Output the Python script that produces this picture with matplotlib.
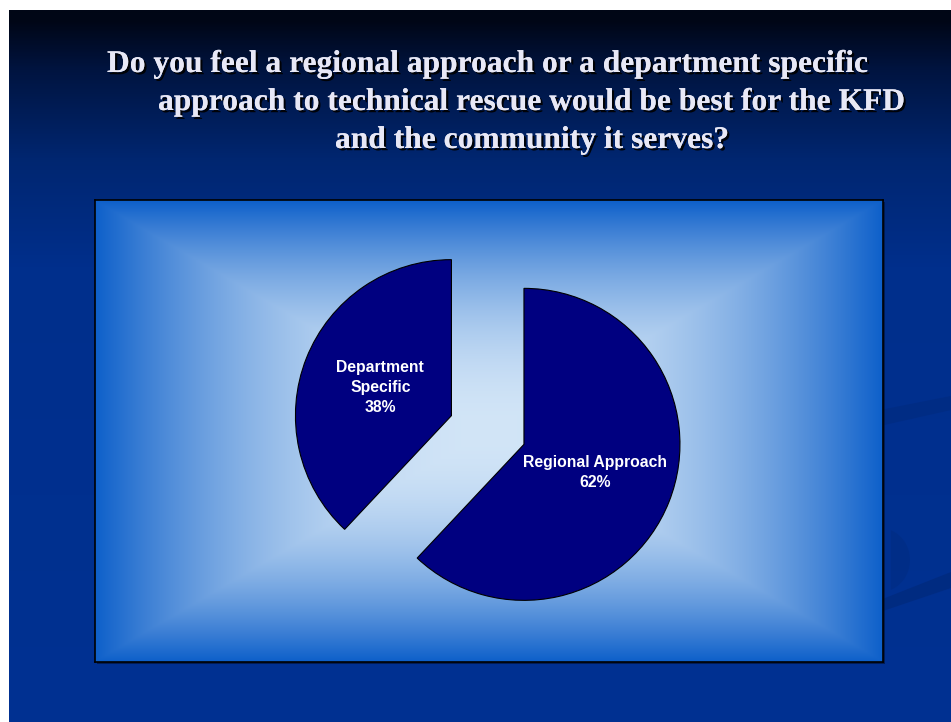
import numpy as np
import matplotlib.pyplot as plt
import matplotlib.patheffects as pe
from matplotlib.patches import Rectangle, Polygon

# survey answers
categories = ["Regional Approach", "Department Specific"]
shares = [62, 38]
title_lines = [
    "Do you feel a regional approach or a department specific",
    "approach to technical rescue would be best for the KFD",
    "and the community it serves?",
]

W, H = 951, 722
fig = plt.figure(figsize=(W / 100, H / 100), dpi=100)
fig.patch.set_facecolor("white")

# slide background, pixel coordinates
bg = fig.add_axes([0, 0, 1, 1])
bg.set_xlim(0, W)
bg.set_ylim(H, 0)
bg.axis("off")

ys = np.arange(H)
stops_y = [10, 60, 150, 260, 722]
stops_c = np.array([[0, 6, 22], [0, 20, 64], [0, 38, 112], [0, 47, 140], [0, 49, 146]]) / 255
col = np.stack([np.interp(ys, stops_y, stops_c[:, k]) for k in range(3)], axis=1)
grad = np.repeat(col[:, None, :], W - 9, axis=1)
bg.imshow(grad, extent=(9, W, H, 10), aspect="auto", zorder=0, interpolation="bilinear")

# faint swoosh on the right
bg.add_patch(Polygon([[880, 410], [951, 396], [951, 410], [880, 426]], closed=True,
                     facecolor="#002a7e", edgecolor="none", alpha=0.6, zorder=1))
bg.add_patch(Polygon([[880, 600], [951, 572], [951, 588], [880, 612]], closed=True,
                     facecolor="#002a7e", edgecolor="none", alpha=0.8, zorder=1))
t = np.linspace(-1.2, 1.2, 60)
bg.add_patch(Polygon(np.column_stack([880 + 30 * np.cos(t), 560 + 32 * np.sin(t)]),
                     closed=True, facecolor="#002d86", edgecolor="none", alpha=0.8, zorder=1))

for i, line in enumerate(title_lines):
    x0 = [107, 158, 335][i]
    y0 = [72, 110, 148][i]
    bg.text(x0, y0, line, fontsize=22.7, fontweight="bold", family="Liberation Serif",
            color="#e8e8f6", ha="left", va="baseline", zorder=5,
            path_effects=[pe.withSimplePatchShadow(offset=(1.6, -1.6), shadow_rgbFace="black", alpha=0.9),
                          pe.Normal()])

# chart box
bx0, by0, bx1, by1 = 95, 200, 883, 662
cx, cy, r = 487.7, 430, 156
bg.add_patch(Rectangle((bx0 + 2, by0 + 2), bx1 - bx0, by1 - by0, facecolor="#001030",
                       edgecolor="none", alpha=0.6, zorder=2))
ax = fig.add_axes([bx0 / W, 1 - by1 / H, (bx1 - bx0) / W, (by1 - by0) / H])
xl = (-(cx - bx0) / r, (bx1 - cx) / r)
yl = (-(by1 - cy) / r, (cy - by0) / r)

gx = np.linspace(bx0, bx1, 400)
gy = np.linspace(by0, by1, 240)
GX, GY = np.meshgrid(gx, gy)
mx, my = (bx0 + bx1) / 2, (by0 + by1) / 2
tt = np.maximum(np.abs(GX - mx) / ((bx1 - bx0) / 2), np.abs(GY - my) / ((by1 - by0) / 2))
s = 1 - tt ** 2
c_in = np.array([210, 229, 247]) / 255
c_out = np.array([14, 96, 202]) / 255
img = c_out + (c_in - c_out) * s[..., None]
ax.imshow(img, extent=(xl[0], xl[1], yl[0], yl[1]), aspect="auto", zorder=0, interpolation="bilinear")

labels = ["%s\n%d%%" % (c.replace("Department ", "Department\n"), v) for c, v in zip(categories, shares)]
ax.pie(shares, labels=labels, startangle=90, counterclock=False, explode=[0.25, 0.25],
       labeldistance=0.49, colors=["#000080", "#000080"],
       wedgeprops=dict(edgecolor="black", linewidth=0.8),
       textprops=dict(color="white", fontsize=11.3, fontweight="bold", family="Liberation Sans",
                      ha="center", va="center", linespacing=1.4))
ax.set_xlim(xl)
ax.set_ylim(yl)
ax.set_aspect("auto")
ax.set_frame_on(True)
ax.set_xticks([])
ax.set_yticks([])
for sp in ax.spines.values():
    sp.set_visible(True)
    sp.set_color("black")
    sp.set_linewidth(1.2)

fig.savefig("out.png", dpi=100)
